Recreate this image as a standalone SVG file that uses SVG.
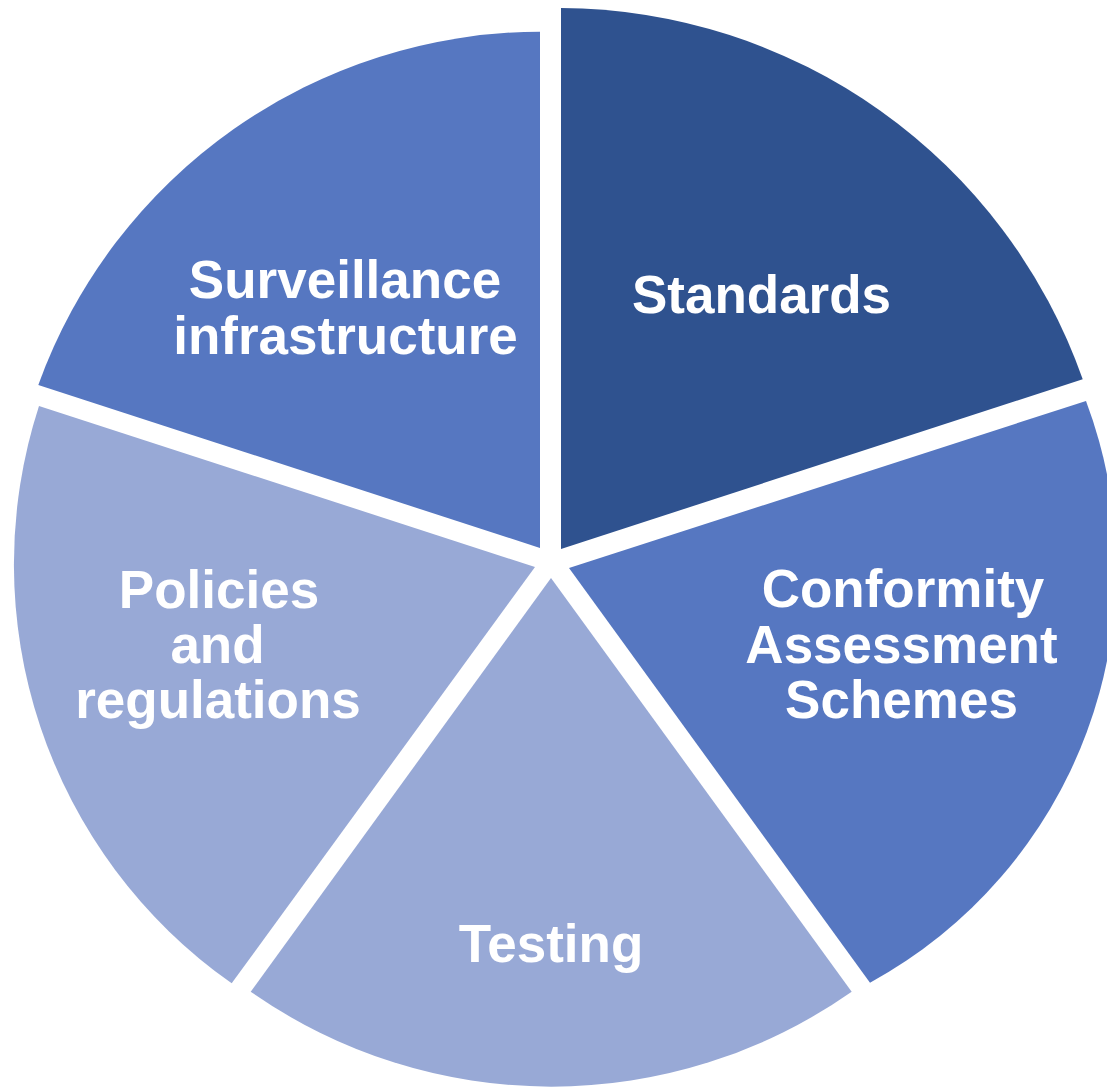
<svg xmlns="http://www.w3.org/2000/svg" width="1107" height="1088" viewBox="0 0 1107 1088">
<style>
.dark{fill:#2F528F}
.mid{fill:#5677C1}
.light{fill:#98A9D6}
.lbl{font-family:"Liberation Sans",Arial,sans-serif;font-weight:bold;font-size:53px;fill:#FFFFFF;text-anchor:middle}
</style>
<rect width="1107" height="1088" fill="#FFFFFF"/>
<g id="standards">
<path class="dark" d="M561,549 L561,8 A556,556 0 0 1 1082.7,379.3 Z"/>
<text class="lbl" x="761.5" y="313">Standards</text>
</g>
<g id="surveillance">
<path class="mid" d="M540,548 L540,31.7 A535,535 0 0 0 38.3,385 Z"/>
<text class="lbl" x="345" y="298">Surveillance</text>
<text class="lbl" x="345.5" y="354">infrastructure</text>
</g>
<g id="conformity">
<path class="mid" d="M569,568 L1086,401 A473,473 0 0 1 870,982.7 Z"/>
<text class="lbl" x="903" y="607">Conformity</text>
<text class="lbl" x="901.5" y="663">Assessment</text>
<text class="lbl" x="901.5" y="718">Schemes</text>
</g>
<g id="testing">
<path class="light" d="M551,578 L851.7,991.7 A523,523 0 0 1 250.7,991.7 Z"/>
<text class="lbl" x="551" y="962">Testing</text>
</g>
<g id="policies">
<path class="light" d="M535,567 L231.7,983.3 A512,512 0 0 1 39,406 Z"/>
<text class="lbl" x="219" y="608">Policies</text>
<text class="lbl" x="217.5" y="663">and</text>
<text class="lbl" x="218" y="718">regulations</text>
</g>
<g id="connectors"/>
</svg>
